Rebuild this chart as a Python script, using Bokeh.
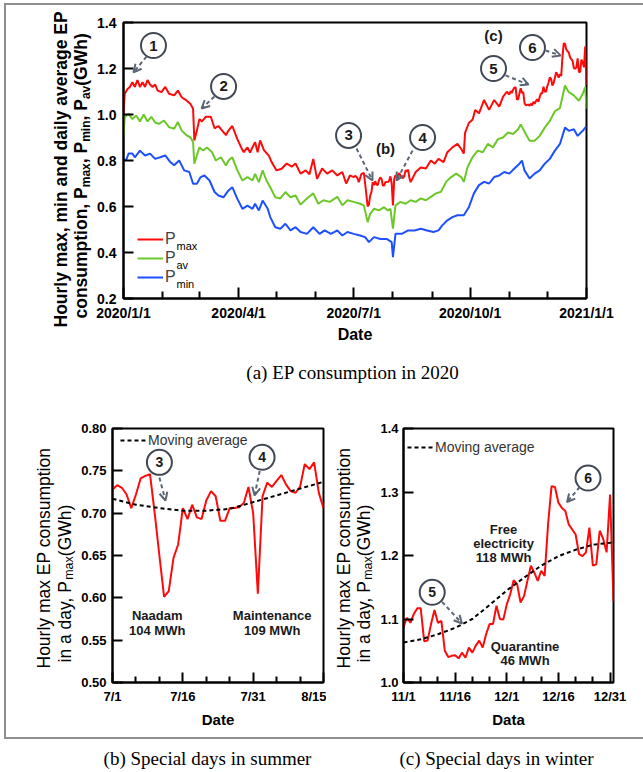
import math
from bokeh.plotting import figure
from bokeh.models import (FixedTicker, Label, Arrow, OpenHead, Legend, LegendItem, Range1d)
from bokeh.layouts import column, row
from bokeh.embed import file_html
from bokeh.resources import INLINE
from bokeh.core.properties import value

FONT = "Liberation Sans"
SERIF = "Liberation Serif"

# ===================== DATA =====================
# (a) whole year, x = days counted from 2020/1/1
a_tick_days = [0, 91, 182, 274, 366]
a_tick_labels = ["2020/1/1", "2020/4/1", "2020/7/1", "2020/10/1", "2021/1/1"]
a_month_days = [31, 60, 121, 152, 213, 244, 305, 335]
a_y_ticks = [0.2, 0.4, 0.6, 0.8, 1.0, 1.2, 1.4]
a_y_labels = ["0.2", "0.4", "0.6", "0.8", "1.0", "1.2", "1.4"]

pmax_days = [0, 1, 3, 5, 7, 9, 11, 13, 15, 17, 19, 21, 23, 25, 27, 30, 33, 36, 40, 43,
             46, 50, 53, 55, 56, 58, 60, 62, 65, 69, 72, 75, 78, 81, 83, 86, 90, 93, 95, 98,
             100, 104, 106, 108, 111, 115, 117, 121, 125, 129, 133, 136, 140, 144, 147, 150,
             153, 157, 161, 165, 169, 173, 176, 179,
             231, 235, 239, 243, 246, 249, 253, 256, 260, 264, 267, 269, 270, 273, 276, 278,
             281, 285, 289, 293, 297, 300, 303]
pmax_vals = [1.003, 1.09, 1.11, 1.12, 1.14, 1.12, 1.15, 1.12, 1.14, 1.12, 1.15, 1.13, 1.12, 1.13, 1.104, 1.097, 1.12, 1.09, 1.083, 1.104,
             1.075, 1.06, 1.046, 1.025, 0.887, 0.93, 0.98, 0.97, 0.99, 0.99, 0.94, 0.95, 0.93, 0.91, 0.93, 0.95, 0.893, 0.857, 0.836, 0.857,
             0.835, 0.88, 0.836, 0.887, 0.845, 0.82, 0.794, 0.757, 0.764, 0.787, 0.773, 0.787, 0.743, 0.757, 0.74, 0.807,
             0.72, 0.765, 0.743, 0.757, 0.735, 0.75, 0.70, 0.735,
             0.75, 0.77, 0.765, 0.80, 0.786, 0.807, 0.793, 0.836, 0.857, 0.872, 0.85, 0.83, 0.92, 0.963, 0.978, 1.02,
             1.005, 1.063, 1.02, 1.063, 1.034, 1.077, 1.099]

pav_days = [0, 1, 4, 7, 10, 13, 16, 19, 22, 25, 28, 32, 36, 40, 43, 46, 50, 53, 55, 56,
            58, 60, 63, 66, 70, 73, 77, 81, 83, 86, 90, 94, 98, 102, 104, 107, 110, 113, 116, 120,
            124, 128, 132, 136, 140, 145, 150, 154, 158, 163, 169, 173, 177, 182, 187, 190, 193, 195, 198, 202,
            206, 209, 211, 213, 215, 219, 223, 227, 231, 235, 239, 243, 247, 251, 255, 259, 263, 267, 269, 272,
            276, 280, 284, 288, 292, 296, 300, 304, 308, 312, 314, 318, 321, 325, 329, 333, 337, 341, 345, 349,
            352, 356, 360, 363, 365, 366]
pav_vals = [0.909, 0.988, 1.003, 0.98, 0.996, 0.97, 1.0, 0.97, 0.99, 0.965, 0.959, 0.974, 0.945, 0.938, 0.967, 0.93, 0.909, 0.90, 0.88, 0.786,
            0.822, 0.857, 0.843, 0.857, 0.836, 0.80, 0.814, 0.778, 0.80, 0.814, 0.757, 0.713, 0.728, 0.713, 0.742, 0.706, 0.757, 0.713, 0.684, 0.64,
            0.635, 0.663, 0.64, 0.648, 0.608, 0.635, 0.657, 0.612, 0.627, 0.62, 0.642, 0.605, 0.627, 0.62, 0.612, 0.605, 0.532, 0.568, 0.59, 0.583,
            0.597, 0.583, 0.59, 0.504, 0.605, 0.62, 0.612, 0.627, 0.62, 0.635, 0.627, 0.642, 0.657, 0.664, 0.707, 0.728, 0.743, 0.728, 0.707, 0.772,
            0.815, 0.843, 0.836, 0.872, 0.857, 0.893, 0.90, 0.922, 0.915, 0.936, 0.957, 0.915, 0.886, 0.886, 0.907, 0.943, 0.972, 1.014, 1.028, 1.126,
            1.097, 1.083, 1.06, 1.09, 1.119, 1.025]

pmin_days = [0, 2, 4, 7, 9, 13, 17, 21, 25, 29, 33, 37, 40, 44, 48, 52, 55, 58, 61, 64,
             68, 72, 75, 79, 83, 86, 90, 94, 98, 102, 104, 107, 110, 114, 116, 120, 124, 128, 132, 136,
             140, 145, 150, 155, 159, 164, 169, 173, 177, 182, 187, 191, 194, 198, 203, 208, 212, 213, 215, 220,
             225, 230, 235, 240, 245, 249, 252, 256, 260, 264, 269, 273, 277, 281, 285, 289, 293, 297, 301, 305,
             309, 313, 315, 317, 321, 325, 329, 333, 337, 341, 345, 349, 352, 356, 359, 363, 366]
pmin_vals = [0.807, 0.80, 0.83, 0.83, 0.814, 0.843, 0.822, 0.83, 0.807, 0.814, 0.822, 0.793, 0.779, 0.80, 0.757, 0.75, 0.699, 0.699, 0.728, 0.735,
             0.713, 0.663, 0.648, 0.64, 0.67, 0.684, 0.633, 0.59, 0.604, 0.59, 0.612, 0.583, 0.626, 0.59, 0.554, 0.51, 0.503, 0.525, 0.496, 0.51,
             0.489, 0.481, 0.51, 0.481, 0.496, 0.481, 0.496, 0.474, 0.489, 0.481, 0.474, 0.467, 0.445, 0.467, 0.459, 0.459, 0.445, 0.38, 0.481, 0.481,
             0.496, 0.496, 0.503, 0.496, 0.489, 0.496, 0.518, 0.54, 0.554, 0.562, 0.562, 0.597, 0.657, 0.693, 0.707, 0.70, 0.728, 0.735, 0.75, 0.743,
             0.765, 0.786, 0.80, 0.757, 0.722, 0.743, 0.757, 0.786, 0.807, 0.843, 0.872, 0.943, 0.929, 0.936, 0.907, 0.929, 0.95]

# (b) summer, daily P_max from 7/1 (day 182 of the year)
summer_start = 182
summer_pmax = [0.728, 0.733, 0.730, 0.722, 0.706, 0.722, 0.741, 0.744, 0.746, 0.700,
               0.650, 0.601, 0.608, 0.647, 0.663, 0.706, 0.693, 0.710, 0.695, 0.693,
               0.715, 0.726, 0.720, 0.691, 0.691, 0.706, 0.706, 0.707, 0.712, 0.731,
               0.700, 0.605, 0.720, 0.736, 0.731, 0.738, 0.745, 0.734, 0.726, 0.724,
               0.731, 0.758, 0.752, 0.760, 0.724, 0.706]
summer_ma_days = [0, 5, 10, 15, 20, 25, 30, 35, 40, 45]
summer_ma = [0.717, 0.710, 0.706, 0.703, 0.703, 0.705, 0.713, 0.721, 0.729, 0.737]
b_tick_days = [0, 15, 30, 45]
b_tick_labels = ["7/1", "7/16", "7/31", "8/15"]
b_minor_days = [5, 10, 20, 25, 35, 40]
b_y_ticks = [0.5, 0.55, 0.6, 0.65, 0.7, 0.75, 0.8]
b_y_labels = ["0.50", "0.55", "0.60", "0.65", "0.70", "0.75", "0.80"]

# (c) winter, daily P_max from 11/1 (day 305 of the year) to 2021/1/1
winter_start = 305
winter_pmax = [1.087, 1.102, 1.094, 1.108, 1.117, 1.117, 1.065, 1.066, 1.092, 1.114,
               1.094, 1.097, 1.050, 1.040, 1.042, 1.043, 1.038, 1.047, 1.039, 1.055,
               1.047, 1.058, 1.066, 1.055, 1.076, 1.092, 1.092, 1.121, 1.100, 1.099,
               1.123, 1.139, 1.161, 1.155, 1.126, 1.136, 1.160, 1.184, 1.173, 1.160,
               1.176, 1.168, 1.250, 1.309, 1.308, 1.283, 1.275, 1.270, 1.249, 1.241,
               1.233, 1.202, 1.199, 1.205, 1.244, 1.184, 1.186, 1.239, 1.226, 1.205,
               1.296, 1.128]
winter_ma_days = [0, 5, 10, 15, 20, 25, 30, 35, 40, 45, 50, 55, 60, 61]
winter_ma = [1.063, 1.068, 1.076, 1.086, 1.100, 1.122, 1.145, 1.165, 1.184, 1.199, 1.209, 1.217, 1.220, 1.221]
c_tick_days = [0, 15, 30, 45, 60]
c_tick_labels = ["11/1", "11/16", "12/1", "12/16", "12/31"]
c_minor_days = [5, 10, 20, 25, 35, 40, 50, 55]
c_y_ticks = [1.0, 1.1, 1.2, 1.3, 1.4]
c_y_labels = ["1.0", "1.1", "1.2", "1.3", "1.4"]

# ===================== HELPERS =====================
RED, GREEN, BLUE = "#ff0a0a", "#6cc82a", "#1e50ff"
CIRC, ARR = "#414955", "#5b6574"

REG = {' ': 278, '(': 333, ')': 333, ',': 278, '.': 278, '/': 278, 'A': 667, 'D': 722, 'E': 667,
       'G': 778, 'H': 722, 'M': 833, 'N': 722, 'P': 667, 'Q': 778, 'W': 944, 'a': 556, 'b': 556,
       'c': 500, 'd': 556, 'e': 556, 'f': 278, 'g': 556, 'h': 556, 'i': 222, 'l': 222, 'm': 833,
       'n': 556, 'o': 556, 'p': 556, 'r': 333, 's': 500, 't': 278, 'u': 556, 'v': 500, 'x': 500, 'y': 500}
BLD = {' ': 278, '(': 333, ')': 333, ',': 278, '.': 278, '/': 278, 'E': 667, 'G': 778, 'H': 722,
       'P': 667, 'W': 944, 'a': 556, 'c': 556, 'd': 611, 'e': 556, 'g': 611, 'h': 611, 'i': 278,
       'l': 278, 'm': 889, 'n': 611, 'o': 611, 'p': 611, 'r': 389, 's': 556, 't': 333, 'u': 611,
       'v': 556, 'x': 556, 'y': 556}


def text_width(t, size, bold):
    tab = BLD if bold else REG
    return sum(tab.get(ch, 556) for ch in t) * size / 1000.0


def make_conv(fx0, fx1, fy0, fy1, xr, yr):
    def conv(X, Y):
        x = xr[0] + (X - fx0) / (fx1 - fx0) * (xr[1] - xr[0])
        y = yr[1] - (Y - fy0) / (fy1 - fy0) * (yr[1] - yr[0])
        return x, y
    return conv


def deco(x0, x1, y0, y1, top=0, bottom=0):
    """Blank figure; its frame covers page pixels x0..x1, (y0+top)..(y1-bottom) and its
    data coordinates are those page pixels."""
    d = figure(width=x1 - x0, height=y1 - y0, x_range=Range1d(x0, x1),
               y_range=Range1d(y1 - bottom, y0 + top),
               x_axis_type=None, y_axis_type=None, toolbar_location=None,
               output_backend="svg", min_border=0, outline_line_color=None)
    d.min_border_top = top
    d.min_border_bottom = bottom
    d.min_border_left = 0
    d.min_border_right = 0
    d.background_fill_color = "white"
    d.border_fill_color = "white"
    return d


def rotated_text(p, x_base, y_start, pieces):
    y = y_start
    for t, size, bold, shift in pieces:
        p.text([x_base + shift], [y], text=[t], angle=math.pi / 2, text_font=value(FONT),
               text_font_size=f"{size}px", text_font_style="bold" if bold else "normal",
               text_align="left", text_baseline="alphabetic", text_color="black")
        y -= text_width(t, size, bold)


def style(p, tick_size):
    p.xgrid.visible = False
    p.ygrid.visible = False
    p.outline_line_color = "black"
    p.outline_line_width = 2
    p.background_fill_color = "white"
    p.border_fill_color = "white"
    for ax in p.axis:
        ax.axis_line_width = 2
        ax.axis_line_color = "black"
        ax.major_tick_in = 10
        ax.major_tick_out = 0
        ax.minor_tick_in = 6
        ax.minor_tick_out = 0
        ax.major_tick_line_width = 2
        ax.minor_tick_line_width = 2
        ax.major_label_text_font = FONT
        ax.major_label_text_font_style = "bold"
        ax.major_label_text_font_size = tick_size
        ax.major_label_text_color = "black"
        ax.axis_label_text_font = FONT
        ax.axis_label_text_font_style = "bold"
        ax.axis_label_text_color = "black"
    p.yaxis.minor_tick_line_color = None


def circled(p, xs, ys, labels, size=25, fsize="15px"):
    p.scatter(xs, ys, marker="circle", size=size, fill_color="white",
              line_color=CIRC, line_width=2)
    p.text(xs, ys, text=labels, text_font=value(FONT), text_font_style="bold",
           text_font_size=fsize, text_align="center", text_baseline="middle",
           text_color="#1a1a1a")


def arrow(p, x0, y0, x1, y1):
    p.add_layout(Arrow(end=OpenHead(size=8, line_color=ARR, line_width=2),
                       x_start=x0, y_start=y0, x_end=x1, y_end=y1,
                       line_color=ARR, line_width=2, line_dash="4 3"))


# ===================== (a) =====================
p1 = figure(width=551, height=340, x_range=Range1d(0, 366), y_range=Range1d(0.2, 1.4),
            min_border_left=31, min_border_right=57, min_border_top=17, min_border_bottom=47,
            toolbar_location=None, output_backend="svg")
style(p1, "14px")
p1.xaxis.ticker = FixedTicker(ticks=a_tick_days, minor_ticks=a_month_days)
p1.xaxis.major_label_overrides = {d: l for d, l in zip(a_tick_days, a_tick_labels)}
p1.xaxis.major_tick_in = 11
p1.xaxis.minor_tick_in = 7
p1.yaxis.ticker = FixedTicker(ticks=a_y_ticks)
p1.yaxis.major_label_overrides = {v: l for v, l in zip(a_y_ticks, a_y_labels)}
p1.xaxis.major_label_standoff = 6
p1.yaxis.major_label_standoff = 7
p1.xaxis.axis_label = "Date"
p1.xaxis.axis_label_text_font_size = "16px"
p1.xaxis.axis_label_standoff = 2

full = dict(zip(pmax_days, pmax_vals))
for i, v in enumerate(summer_pmax):
    full[summer_start + i] = v
for i, v in enumerate(winter_pmax):
    full[winter_start + i] = v
mx_days = sorted(full)
mx_vals = [full[d] for d in mx_days]

r_max = p1.line(mx_days, mx_vals, line_color=RED, line_width=2)
r_av = p1.line(pav_days, pav_vals, line_color=GREEN, line_width=2)
r_min = p1.line(pmin_days, pmin_vals, line_color=BLUE, line_width=2)

leg1 = Legend(items=[LegendItem(label="P", renderers=[r_max]),
                     LegendItem(label="P", renderers=[r_av]),
                     LegendItem(label="P", renderers=[r_min])],
              location=(14, 12), padding=0, margin=0, spacing=1,
              glyph_width=26, glyph_height=16, label_height=16, label_standoff=2,
              label_text_font=FONT, label_text_font_size="16px",
              background_fill_alpha=0, border_line_alpha=0)
p1.add_layout(leg1)

conv1 = make_conv(123, 586, 22, 298, (0, 366), (0.2, 1.4))
for sub, yb in (("max", 245), ("av", 264), ("min", 283)):
    sx, sy = conv1(176, yb)
    p1.add_layout(Label(x=sx, y=sy, text=sub, text_font=FONT, text_font_size="11px",
                        text_align="left", text_baseline="alphabetic", text_color="black"))

# annotations (data units)
circled(p1, [23.7, 79.1, 177.9, 236.4, 292.5, 323.3], [1.300, 1.122, 0.909, 0.900, 1.200, 1.291],
        ["1", "2", "3", "4", "5", "6"])
arrow(p1, 18.2, 1.252, 7.9, 1.183)
arrow(p1, 71.9, 1.078, 61.7, 1.026)
arrow(p1, 184.2, 0.852, 196.8, 0.713)
arrow(p1, 228.5, 0.843, 215.8, 0.713)
arrow(p1, 302.0, 1.170, 320.2, 1.130)
arrow(p1, 333.6, 1.278, 345.5, 1.257)
p1.text([207.1, 292.5], [0.852, 1.343], text=["(b)", "(c)"], text_font=value(FONT),
        text_font_style="bold", text_font_size="15px", text_align="center",
        text_baseline="middle", text_color="#1a1a1a")

# y-axis title of (a), drawn in a strip left of the axis (spans plot + caption height)
la = deco(6, 92, 5, 395)
rotated_text(la, 60, 327, [("Hourly max, min and daily average EP", 17.5, True, 0)])
rotated_text(la, 80, 318, [("consumption, P", 17.5, True, 0), ("max", 12, True, 5),
                           (", P", 17.5, True, 0), ("min", 12, True, 5),
                           (", P", 17.5, True, 0), ("av", 12, True, 5),
                           ("  (GWh)", 17.5, True, 0)])

capa = deco(92, 643, 345, 395)
capa.text([365], [372], text=["(a) EP consumption in 2020"], text_font=value(SERIF),
          text_font_size="19px", text_align="center", text_baseline="middle", text_color="black")

# ===================== (b) =====================
p2 = figure(width=248, height=342, x_range=Range1d(0, 45), y_range=Range1d(0.5, 0.8),
            min_border_left=34, min_border_right=3, min_border_top=33, min_border_bottom=55,
            toolbar_location=None, output_backend="svg")
style(p2, "13px")
p2.xaxis.ticker = FixedTicker(ticks=b_tick_days, minor_ticks=b_minor_days)
p2.xaxis.major_label_overrides = {d: l for d, l in zip(b_tick_days, b_tick_labels)}
p2.yaxis.ticker = FixedTicker(ticks=b_y_ticks)
p2.yaxis.major_label_overrides = {v: l for v, l in zip(b_y_ticks, b_y_labels)}
p2.xaxis.major_label_standoff = 6
p2.yaxis.major_label_standoff = 6
p2.xaxis.axis_label = "Date"
p2.xaxis.axis_label_text_font_size = "15px"
p2.xaxis.axis_label_standoff = 4

p2.line(list(range(len(summer_pmax))), summer_pmax, line_color=RED, line_width=2)
r_ma2 = p2.line(summer_ma_days, summer_ma, line_color="black", line_width=2, line_dash="4 3")
p2.add_layout(Legend(items=[LegendItem(label="Moving average", renderers=[r_ma2])],
                     location=(8, 234), padding=0, margin=0, glyph_width=27, glyph_height=16,
                     label_height=16, label_standoff=1, label_text_font=FONT,
                     label_text_font_size="14px", label_text_color="#333333",
                     background_fill_alpha=0, border_line_alpha=0))
circled(p2, [10.0, 31.9], [0.760, 0.766], ["3", "4"], size=25, fsize="14px")
arrow(p2, 10.0, 0.742, 11.3, 0.715)
arrow(p2, 31.4, 0.750, 30.3, 0.721)
p2.text([9.53, 9.53, 34.06, 34.06], [0.579, 0.562, 0.579, 0.562],
        text=["Naadam", "104 MWh", "Maintenance", "109 MWh"], text_font=value(FONT),
        text_font_style="bold", text_font_size="13px", text_align="center",
        text_baseline="alphabetic", text_color="#1a1a1a")

lb = deco(6, 78, 395, 737, top=33, bottom=55)
rotated_text(lb, 43.5, 668, [("Hourly max EP consumption", 17.5, False, 0)])
rotated_text(lb, 64, 662, [("in a day, P", 17.5, False, 0), ("max", 12.5, False, 4.5),
                           (" (GWh)", 17.5, False, 0)])

# ===================== (c) =====================
p3 = figure(width=266, height=342, x_range=Range1d(0, 61), y_range=Range1d(1.0, 1.4),
            min_border_left=24, min_border_right=30, min_border_top=33, min_border_bottom=55,
            toolbar_location=None, output_backend="svg")
style(p3, "13px")
p3.xaxis.ticker = FixedTicker(ticks=c_tick_days, minor_ticks=c_minor_days)
p3.xaxis.major_label_overrides = {d: l for d, l in zip(c_tick_days, c_tick_labels)}
p3.yaxis.ticker = FixedTicker(ticks=c_y_ticks)
p3.yaxis.major_label_overrides = {v: l for v, l in zip(c_y_ticks, c_y_labels)}
p3.xaxis.major_label_standoff = 6
p3.yaxis.major_label_standoff = 5
p3.xaxis.axis_label = "Data"
p3.xaxis.axis_label_text_font_size = "15px"
p3.xaxis.axis_label_standoff = 4

p3.line(list(range(len(winter_pmax))), winter_pmax, line_color=RED, line_width=2)
r_ma3 = p3.line(winter_ma_days, winter_ma, line_color="black", line_width=2, line_dash="4 3")
p3.add_layout(Legend(items=[LegendItem(label="Moving average", renderers=[r_ma3])],
                     location=(4, 227), padding=0, margin=0, glyph_width=27, glyph_height=16,
                     label_height=16, label_standoff=1, label_text_font=FONT,
                     label_text_font_size="14px", label_text_color="#333333",
                     background_fill_alpha=0, border_line_alpha=0))
circled(p3, [8.34, 53.6], [1.142, 1.322], ["5", "6"], size=25, fsize="14px")
arrow(p3, 11.2, 1.127, 17.0, 1.093)
arrow(p3, 51.2, 1.308, 47.5, 1.284)
p3.text([29.06, 29.06, 29.06, 35.3, 35.3], [1.2417, 1.2192, 1.1965, 1.0564, 1.0354],
        text=["Free", "electricity", "118 MWh", "Quarantine", "46 MWh"], text_font=value(FONT),
        text_font_style="bold", text_font_size="13px", text_align="center",
        text_baseline="alphabetic", text_color="#1a1a1a")

lc = deco(326, 377, 395, 737, top=33, bottom=55)
rotated_text(lc, 343, 668, [("Hourly max EP consumption", 17.5, False, 0)])
rotated_text(lc, 363, 662, [("in a day, P", 17.5, False, 0), ("max", 12.5, False, 4.5),
                            (" (GWh)", 17.5, False, 0)])

# ===================== captions (b), (c) =====================
pcap = deco(0, 643, 739, 772)
pcap.text([207, 496], [758, 758], text=["(b) Special days in summer", "(c) Special days in winter"],
          text_font=value(SERIF), text_font_size="19px", text_align="center",
          text_baseline="middle", text_color="black")

inner = column(row(la, column(p1, capa)), row(lb, p2, lc, p3), margin=(3, 0, 0, 4),
               styles={"border-top": "2px solid #8e8e8e", "border-left": "2px solid #8e8e8e",
                       "border-bottom": "2px solid #8e8e8e"})
layout = column(inner, pcap)

open("out.html", "w").write(file_html(layout, INLINE))
